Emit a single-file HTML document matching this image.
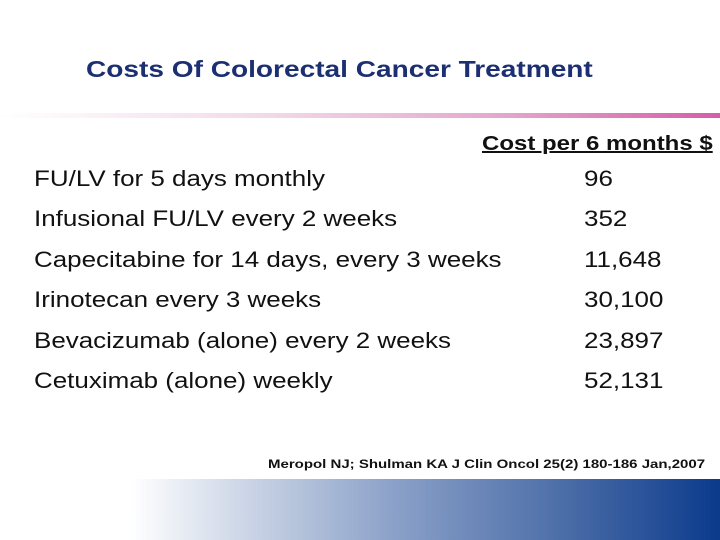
<!DOCTYPE html>
<html><head><meta charset="utf-8"><style>
body{margin:0;width:720px;height:540px;overflow:hidden;background:#fff;position:relative;font-family:"Liberation Sans",Arial,sans-serif}
div{position:absolute;white-space:nowrap;transform-origin:left top}
.r{left:34px;font-size:22px;color:#111;transform:scaleX(1.18)}
.v{left:584px;font-size:22px;color:#111;transform:scaleX(1.18)}
</style></head><body>
<div style="left:86px;top:56px;font-size:23px;font-weight:bold;color:#1b2f72;transform:scaleX(1.22)">Costs Of Colorectal Cancer Treatment</div>
<div style="left:0;top:113px;width:720px;height:5px;background:linear-gradient(to right,#fff 0%,#f3dcea 35%,#e4a6cc 70%,#d45ea8 100%)"></div>
<div style="left:482px;top:133px;font-size:20px;font-weight:bold;text-decoration:underline;color:#111;transform:scaleX(1.2)">Cost per 6 months $</div>
<div class="r" style="top:166px">FU/LV for 5 days monthly</div>
<div class="v" style="top:166px">96</div>
<div class="r" style="top:206px">Infusional FU/LV every 2 weeks</div>
<div class="v" style="top:206px">352</div>
<div class="r" style="top:247px">Capecitabine for 14 days, every 3 weeks</div>
<div class="v" style="top:247px">11,648</div>
<div class="r" style="top:287px">Irinotecan every 3 weeks</div>
<div class="v" style="top:287px">30,100</div>
<div class="r" style="top:328px">Bevacizumab (alone) every 2 weeks</div>
<div class="v" style="top:328px">23,897</div>
<div class="r" style="top:368px">Cetuximab (alone) weekly</div>
<div class="v" style="top:368px">52,131</div>
<div style="left:268px;top:457px;font-size:12px;font-weight:bold;color:#111;transform:scaleX(1.25)">Meropol NJ; Shulman KA J Clin Oncol 25(2) 180-186 Jan,2007</div>
<div style="left:0;top:479px;width:720px;height:61px;background:linear-gradient(to right,#fff 0%,#fff 18%,#c9d3e5 35%,#8aa0c8 55%,#4c6ea8 78%,#0b3a8c 100%)"></div>
</body></html>
